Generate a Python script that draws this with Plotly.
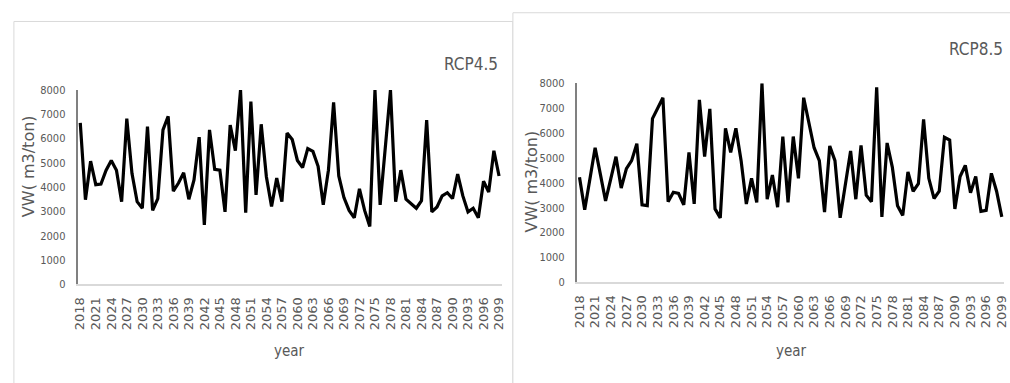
import plotly.graph_objects as go

W, H = 1010, 383

years = list(range(2018, 2100))

# Annual VW (m3/ton), scenario RCP4.5
vw_rcp45 = [
    6650, 3480, 5070, 4100, 4130, 4700, 5100, 4700, 3400, 6820,
    4570, 3400, 3130, 6490, 3040, 3530, 6360, 6920, 3840, 4170,
    4590, 3500, 4300, 6060, 2440, 6360, 4730, 4700, 2980, 6560,
    5500, 8000, 2950, 7520, 3680, 6590, 4430, 3200, 4370, 3400,
    6230, 5960, 5100, 4810, 5590, 5470, 4860, 3270, 4700, 7490,
    4460, 3570, 3040, 2740, 3930, 3040, 2380, 8000, 3270, 5650,
    8000, 3400, 4700, 3500, 3330, 3130, 3440, 6760, 2980, 3180,
    3640, 3770, 3530, 4540, 3640, 2980, 3130, 2740, 4240, 3800,
    5500, 4460,
]

# Annual VW (m3/ton), scenario RCP8.5
vw_rcp85 = [
    4220, 2920, 4150, 5410, 4350, 3270, 4160, 5050, 3790, 4570,
    4890, 5570, 3110, 3080, 6580, 6990, 7420, 3240, 3620, 3570,
    3110, 5220, 3150, 7330, 5050, 6970, 2950, 2590, 6190, 5220,
    6190, 4890, 3150, 4180, 3210, 8000, 3340, 4310, 3020, 5860,
    3210, 5860, 4180, 7420, 6450, 5410, 4890, 2820, 5480, 4890,
    2590, 3930, 5280, 3340, 5500, 3500, 3240, 7840, 2630, 5600,
    4630, 3080, 2690, 4440, 3660, 3960, 6550, 4180, 3370, 3660,
    5830, 5720, 2950, 4250, 4700, 3600, 4250, 2850, 2890, 4380,
    3660, 2630,
]

tick_years = list(range(2018, 2100, 3))
y_ticks = list(range(0, 8001, 1000))

panels = [
    # name, values, plot area in pixels (x0, x1, ytop, ybottom)
    ("RCP4.5", vw_rcp45, (73.4, 501.6, 87, 288)),
    ("RCP8.5", vw_rcp85, (577.6, 1009.4, 80, 286)),
]

GRAY_TXT = "#595959"
NARROW = "Liberation Sans Narrow, DejaVu Sans Condensed, Roboto Condensed, Liberation Sans, sans-serif"
WIDE = "DejaVu Sans, Arial, sans-serif"

fig = go.Figure()

def px(x):
    return x / W

def py(y):
    return 1 - y / H

for i, (name, vals, (x0, x1, yt, yb)) in enumerate(panels, start=1):
    xa = "x" if i == 1 else f"x{i}"
    ya = "y" if i == 1 else f"y{i}"
    fig.add_trace(go.Scatter(
        x=years, y=vals, mode="lines",
        line=dict(color="#000000", width=3.2),
        xaxis=xa, yaxis=ya, showlegend=False, hoverinfo="skip",
    ))
    xkey = "xaxis" if i == 1 else f"xaxis{i}"
    ykey = "yaxis" if i == 1 else f"yaxis{i}"
    fig.layout[xkey] = dict(
        domain=[px(x0), px(x1)], range=[2017.5, 2099.5],
        anchor=ya, tickmode="array", tickvals=tick_years,
        ticktext=[str(t) for t in tick_years], tickangle=-90,
        tickfont=dict(family=WIDE, size=13, color=GRAY_TXT),
        showline=True, linecolor="#d9d9d9", linewidth=1.5,
        showgrid=False, zeroline=False, ticks="", ticklabelstandoff=6,
        fixedrange=True,
    )
    fig.layout[ykey] = dict(
        domain=[py(yb), py(yt)], range=[0, 8000],
        anchor=xa, tickmode="array", tickvals=y_ticks,
        tickfont=dict(family=NARROW, size=11, color=GRAY_TXT),
        showline=True, linecolor="#808080", linewidth=2,
        showgrid=False, zeroline=False, ticks="", ticklabelstandoff=8,
        fixedrange=True,
    )

# Chart frames: the second panel sits on top of the first one
fig.add_shape(type="rect", xref="paper", yref="paper",
              x0=px(9), x1=px(513), y0=py(395), y1=py(16),
              line=dict(color="#d9d9d9", width=1), fillcolor="white",
              layer="below")
fig.add_shape(type="rect", xref="paper", yref="paper",
              x0=px(513), x1=px(1020), y0=py(395), y1=py(7),
              line=dict(color="#d9d9d9", width=1), fillcolor="white",
              layer="below")

def label(text, x, y, size, family, angle=0, xanchor="center"):
    fig.add_annotation(text=text, xref="paper", yref="paper",
                       x=px(x), y=py(y), showarrow=False, textangle=angle,
                       xanchor=xanchor, yanchor="middle",
                       font=dict(family=family, size=size, color=GRAY_TXT))

label("RCP4.5", 500, 60, 17, NARROW, xanchor="right")
label("RCP8.5", 1010, 44, 17, NARROW, xanchor="right")
label("year", 287, 357, 15, NARROW)
label("year", 794, 357, 15, NARROW)
label("VW( m3/ton)", 24, 166, 16, WIDE, angle=-90)
label("VW( m3/ton)", 532, 182, 16, WIDE, angle=-90)

fig.update_layout(
    width=W, height=H, margin=dict(l=0, r=0, t=0, b=0),
    paper_bgcolor="white", plot_bgcolor="rgba(0,0,0,0)",
)

fig.write_html("out.html")
